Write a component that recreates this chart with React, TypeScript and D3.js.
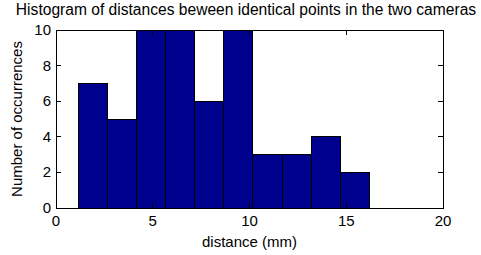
import React from 'react'
import * as d3 from 'd3'

// histogram bins (mm) and counts
const binEdges = [1.15, 2.66, 4.16, 5.67, 7.17, 8.68, 10.18, 11.69, 13.19, 14.7, 16.2]
const counts = [7, 5, 10, 10, 6, 10, 3, 3, 4, 2]
const xTicks = [0, 5, 10, 15, 20]
const yTicks = [0, 2, 4, 6, 8, 10]

const W = 481
const H = 255
const margin = { left: 56, right: 38, top: 30, bottom: 47 }
const font = 'Liberation Sans, Arial, Helvetica, sans-serif'
const fs = 15

export default function App() {
  const x = d3.scaleLinear().domain([0, 20]).range([margin.left, W - margin.right])
  const y = d3.scaleLinear().domain([0, 10]).range([H - margin.bottom, margin.top])
  const x0 = x(0), x1 = x(20), y0 = y(0), y1 = y(10)
  const tick = 5

  return (
    <svg width={W} height={H} style={{ position: 'absolute', left: 0, top: 0, background: '#fff' }}
      fontFamily={font}>
      <rect width={W} height={H} fill="#fff" />
      {counts.map((c, i) => (
        <rect key={i}
          x={x(binEdges[i])}
          y={y(c)}
          width={x(binEdges[i + 1]) - x(binEdges[i])}
          height={y(0) - y(c)}
          fill="#00008f" stroke="#000" strokeWidth={1}
          shapeRendering="crispEdges" />
      ))}
      <rect x={x0} y={y1} width={x1 - x0} height={y0 - y1} fill="none" stroke="#000"
        strokeWidth={1} shapeRendering="crispEdges" />
      {xTicks.map(t => (
        <g key={'x' + t}>
          <line x1={x(t)} x2={x(t)} y1={y0} y2={y0 - tick} stroke="#000" shapeRendering="crispEdges" />
          <line x1={x(t)} x2={x(t)} y1={y1} y2={y1 + tick} stroke="#000" shapeRendering="crispEdges" />
          <text x={x(t)} y={y0 + 18} textAnchor="middle" fontSize={fs}>{t}</text>
        </g>
      ))}
      {yTicks.map(t => (
        <g key={'y' + t}>
          <line x1={x0} x2={x0 + tick} y1={y(t)} y2={y(t)} stroke="#000" shapeRendering="crispEdges" />
          <line x1={x1} x2={x1 - tick} y1={y(t)} y2={y(t)} stroke="#000" shapeRendering="crispEdges" />
          <text x={x0 - 5} y={y(t) + 5} textAnchor="end" fontSize={fs}>{t}</text>
        </g>
      ))}
      <text x={246} y={15} textAnchor="middle" fontSize={15.6}>
        Histogram of distances beween identical points in the two cameras
      </text>
      <text x={(x0 + x1) / 2} y={247} textAnchor="middle" fontSize={fs}>distance (mm)</text>
      <text transform={`translate(22,${(y0 + y1) / 2}) rotate(-90)`} textAnchor="middle" fontSize={fs}>
        Number of occurrences
      </text>
    </svg>
  )
}
